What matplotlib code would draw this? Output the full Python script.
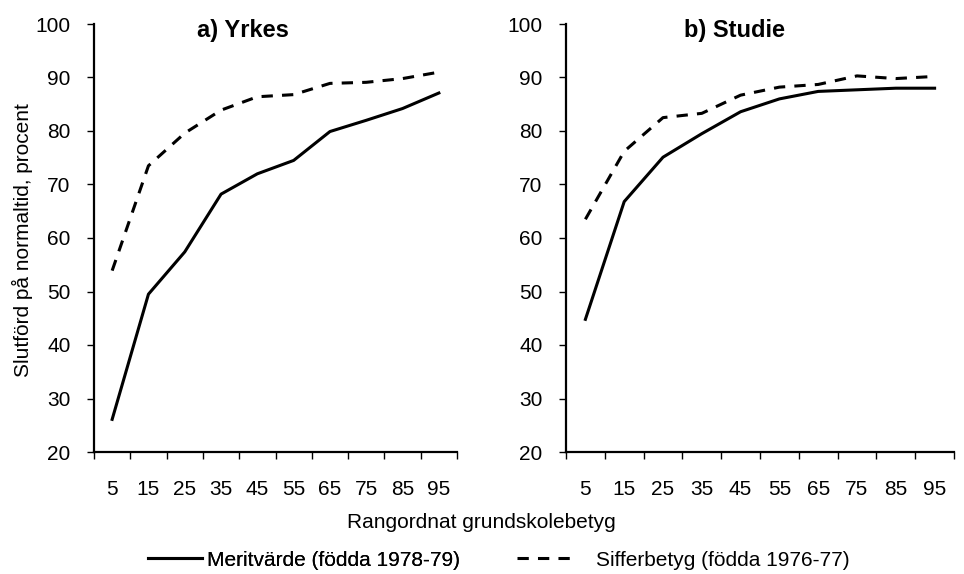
import matplotlib
matplotlib.use('Agg')
import matplotlib.pyplot as plt
import numpy as np

plt.rcParams['font.family'] = ['Liberation Sans', 'DejaVu Sans']

percentiles = ['5', '15', '25', '35', '45', '55', '65', '75', '85', '95']

# a) Yrkes
yrkes_merit = [26.1, 49.5, 57.4, 68.2, 72.0, 74.5, 79.9, 82.0, 84.2, 87.1]
yrkes_siffer = [53.9, 73.5, 79.6, 83.9, 86.4, 86.8, 88.9, 89.1, 89.8, 91.0]

# b) Studie
studie_merit = [44.8, 66.8, 75.1, 79.5, 83.6, 86.0, 87.4, 87.7, 88.0, 88.0]
studie_siffer = [63.5, 76.2, 82.5, 83.3, 86.7, 88.2, 88.7, 90.3, 89.8, 90.2]

W, H = 964, 574
fig = plt.figure(figsize=(W/100, H/100), dpi=100)
ax1 = fig.add_axes([94/W, 1-452/H, 363/W, 428/H])
ax2 = fig.add_axes([566/W, 1-452/H, 388/W, 428/H])

x = np.arange(len(percentiles))
panels = [(ax1, yrkes_merit, yrkes_siffer, 'a) Yrkes', 0.41),
          (ax2, studie_merit, studie_siffer, 'b) Studie', 0.433)]

for ax, merit, siffer, title, tx in panels:
    l1, = ax.plot(x, merit, color='black', lw=2.2)
    l2, = ax.plot(x, siffer, color='black', lw=2.2, dashes=(3.7, 3))
    ax.set_xlim(-0.5, 9.5)
    ax.set_ylim(20, 100)
    ax.set_yticks(range(20, 101, 10))
    ax.set_xticks(np.arange(-0.5, 10, 1))
    ax.set_xticklabels([])
    ax.set_xticks(x, minor=True)
    ax.set_xticklabels(percentiles, minor=True)
    ax.tick_params(axis='x', which='minor', length=0, pad=20, labelsize=15)
    ax.tick_params(axis='x', which='major', length=5, width=1)
    ax.tick_params(axis='y', length=5, width=1, labelsize=15, pad=12)
    for s in ['top', 'right']:
        ax.spines[s].set_visible(False)
    for s in ['left', 'bottom']:
        ax.spines[s].set_linewidth(1.6)
    ax.text(tx, 1 - 6/428, title, transform=ax.transAxes, ha='center', va='center',
            fontsize=17, fontweight='bold')

fig.text(22/W, 1-240/H, 'Slutförd på normaltid, procent', rotation=90,
         ha='center', va='center', fontsize=15)
fig.text(481/W, 1-522/H, 'Rangordnat grundskolebetyg', ha='center', va='center', fontsize=15)

leg1 = fig.legend([l1], ['Meritvärde (födda 1978-79)'], loc='center left',
                  bbox_to_anchor=(148/W, 1-560/H), frameon=False, fontsize=15,
                  handlelength=2.6, handletextpad=0.25, borderpad=0, borderaxespad=0)
leg2 = fig.legend([l2], ['Sifferbetyg (födda 1976-77)'], loc='center left',
                  bbox_to_anchor=(517/W, 1-560/H), frameon=False, fontsize=15,
                  handlelength=2.7, handletextpad=1.1, borderpad=0, borderaxespad=0)
fig.add_artist(leg1)

fig.savefig('out.png', dpi=100)
